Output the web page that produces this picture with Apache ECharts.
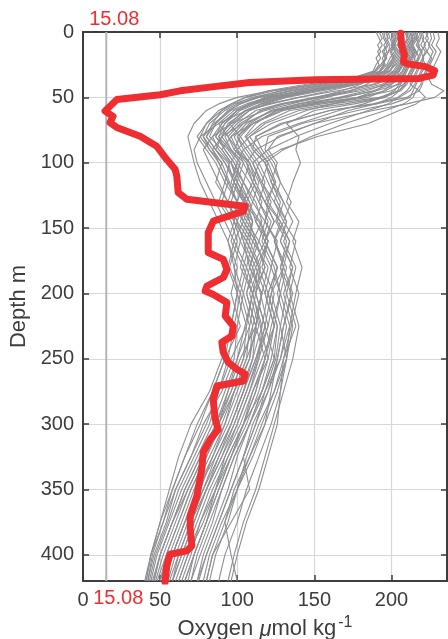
<!DOCTYPE html>
<html><head><meta charset="utf-8">
<script src="https://cdn.jsdelivr.net/npm/echarts@6/dist/echarts.min.js"></script>
<style>html,body{margin:0;padding:0;background:#fff}#c{width:448px;height:639px}</style>
</head><body><div id="c"></div>
<script>
// depth levels (m) shared by the gray profiles
const depths = [0,5,10,15,20,25,30,35,40,45,50,55,60,70,80,90,100,115,130,145,160,180,200,225,250,275,300,325,350,375,400,420];
// oxygen (umol/kg) of each gray profile at those depths
const p01 = [205,206,204,207,205,203,198,185,160,135,118,108,100,92,88,95,102,98,105,110,108,115,112,118,113,106,98,88,80,70,62,58];
const p02 = [210,211,209,212,210,208,205,200,188,165,140,120,108,98,90,86,92,100,96,104,112,118,110,115,120,110,104,96,86,78,68,62];
const p03 = [198,199,201,198,196,195,192,180,150,128,112,102,95,85,78,82,90,95,100,98,106,102,110,105,100,94,88,78,68,60,52,47];
const p04 = [215,217,214,216,218,215,212,210,205,190,168,140,122,108,100,104,110,115,120,118,125,130,122,128,125,118,112,104,96,88,80,75];
const p05 = [207,205,208,206,209,207,204,198,175,150,128,115,105,95,102,98,108,112,106,115,120,112,118,124,116,108,100,92,82,74,66,60];
const p06 = [222,224,221,223,220,222,219,217,215,212,205,188,160,130,112,110,118,122,128,125,132,128,135,130,126,122,118,110,100,94,86,82];
const p07 = [200,202,200,203,201,199,195,185,165,140,120,110,100,90,84,88,95,92,100,104,98,106,102,108,100,92,84,74,64,56,48,44];
const p08 = [212,213,211,214,212,210,208,205,198,180,155,130,115,104,96,100,108,104,112,116,110,120,116,112,118,110,102,92,86,76,70,64];
const p09 = [190,192,194,191,193,190,188,175,145,120,105,96,90,84,80,86,92,98,94,100,96,104,100,106,96,88,80,70,60,54,46,42];
const p10 = [208,207,209,208,206,207,205,203,200,195,185,155,128,110,102,108,114,110,118,124,118,126,120,126,122,116,108,100,94,86,78,74];
const p11 = [203,204,202,205,203,201,199,192,170,145,122,108,98,88,94,100,96,104,110,106,114,108,116,112,110,102,94,84,76,66,58,54];
const p12 = [218,219,217,220,218,216,214,212,208,200,180,150,125,112,105,112,120,125,118,128,134,128,132,138,130,124,116,108,98,92,96,100];
const p13 = [195,196,198,195,197,194,190,178,155,130,110,98,90,80,74,80,86,92,88,96,100,95,102,98,94,88,82,72,62,55,47,43];
const p14 = [209,210,208,211,209,207,205,200,190,172,150,128,112,100,92,96,104,100,108,112,118,110,115,120,112,104,96,86,74,66,58,52];
const p15 = [225,226,224,227,225,223,220,218,216,214,212,200,178,142,120,118,124,128,135,130,138,134,140,135,130,128,122,114,106,100,92,88];
const p16 = [205,207,206,205,207,205,202,196,178,155,132,118,108,96,88,92,98,104,100,110,106,114,108,114,106,98,90,80,70,62,54,50];
const p17 = [212,214,213,215,213,211,209,206,200,188,170,145,122,106,98,102,108,114,110,118,114,122,118,124,120,114,106,96,88,80,72,66];
const p18 = [200,201,203,200,202,200,197,188,168,142,120,106,96,86,82,90,96,100,106,102,110,106,112,108,106,98,92,82,72,64,56,50];
const p19 = [216,218,216,219,217,215,213,211,209,205,195,170,140,118,108,114,120,116,124,130,124,132,128,134,128,120,110,104,108,96,84,80];
const p20 = [207,208,207,209,207,206,203,195,172,148,126,112,102,92,86,94,100,96,104,108,104,112,106,112,102,94,86,78,68,58,50,46];
const p21 = [230,231,229,232,230,228,226,224,226,234,228,210,188,150,126,120,126,122,130,136,130,138,134,140,136,130,124,118,112,104,98,94];
const p22 = [198,197,199,198,196,195,193,186,162,136,114,100,92,82,78,84,90,86,94,98,94,100,96,102,92,84,76,66,58,52,44,41];
const p23 = [211,212,210,213,211,209,207,203,194,176,152,130,116,102,94,98,106,110,104,114,120,114,120,116,114,108,100,90,80,72,64,58];
const p24 = [204,205,204,206,204,202,199,190,170,146,124,110,100,90,86,92,98,104,100,108,112,108,116,110,108,100,92,84,74,66,58,53];
const p25 = [220,221,219,222,220,218,216,214,212,218,210,190,160,128,112,116,122,128,124,132,128,136,130,136,132,124,114,106,100,90,82,78];
const p26 = [202,203,201,204,202,200,196,182,158,134,114,102,94,86,80,86,94,98,104,100,108,104,110,106,104,96,88,76,66,58,50,45];
const p27 = [213,214,212,215,213,211,209,207,204,196,178,150,126,110,100,106,112,118,114,122,118,126,120,126,124,116,104,94,86,80,72,68];
const p28 = [206,207,205,208,206,204,201,194,176,152,130,116,106,94,90,96,102,98,106,110,106,114,110,116,110,104,96,88,78,68,60,55];
const p29 = [194,195,197,194,196,193,189,176,150,124,106,96,88,80,76,82,88,94,90,98,102,98,104,100,98,90,78,70,60,52,45,42];
const p30 = [217,216,218,217,215,216,214,212,210,206,192,162,134,116,106,110,118,124,120,128,124,130,126,132,128,118,108,98,90,84,76,70];
const p31 = [201,203,200,202,199,197,193,180,152,122,100,88,80,72,68,70,72,76,82,88,94,98,100,96,90,82,70,62,56,50,44,41];
const p32 = [214,215,213,216,214,212,210,208,206,204,196,176,150,132,140,138,141,136,132,140,136,142,138,134,132,128,126,120,114,106,100,96];
const p33 = [212,214,211,213,215,214,212,210,208,205,200,190,172,150,128,112,106,112,118,124,118,126,122,118,124,116,108,98,90,82,74,70];
const p34 = [219,220,222,219,221,219,217,215,213,210,204,198,185,160,138,120,110,116,122,118,126,122,128,124,118,112,104,96,88,80,72,66];
const p35 = [206,204,207,205,208,206,203,200,196,190,178,162,145,122,108,100,104,110,116,112,120,116,124,120,114,106,98,90,80,72,64,58];
const p36 = [196,198,195,197,194,196,192,188,180,168,152,135,118,96,84,78,82,88,94,100,104,108,104,110,104,96,86,76,66,58,50,46];
const p37 = [224,222,225,223,226,224,222,220,219,216,214,208,196,170,148,130,118,124,130,126,134,130,136,130,126,120,112,104,96,88,80,74];
const p38 = [209,211,208,210,212,209,207,204,196,184,166,148,130,110,96,90,96,102,108,104,112,118,112,118,112,104,96,86,78,70,62,56];
const p39 = [201,200,202,199,201,198,195,190,184,174,158,140,124,104,90,84,88,94,100,106,102,110,106,112,108,98,88,80,70,62,54,48];
const p40 = [214,216,213,215,213,211,209,207,205,202,194,182,166,140,116,104,100,108,114,120,116,124,128,122,118,112,104,94,84,76,68,62];
const p41 = [227,228,226,229,227,225,223,221,220,218,222,216,205,185,152,128,114,120,126,132,128,136,132,128,132,126,118,108,100,92,84,80];
const p42 = [192,194,191,193,190,192,189,186,178,160,140,122,106,88,76,72,74,80,86,92,98,94,100,96,92,84,74,66,58,50,44,40];
const profiles = [p01,p02,p03,p04,p05,p06,p07,p08,p09,p10,p11,p12,p13,p14,p15,p16,p17,p18,p19,p20,p21,
                  p22,p23,p24,p25,p26,p27,p28,p29,p30,p31,p32,p33,p34,p35,p36,p37,p38,p39,p40,p41,p42];

// highlighted (red) profile
const redDepth = [1,10,17,23,24.5,26.5,29.6,33,35.5,36.5,38.7,41.8,45,48,51.7,56.8,60.5,64.5,69.3,73,79.8,87.4,97.6,105,110,122.8,128,130.5,133.3,137,144.7,153.4,168.7,174,181.7,187.8,194.4,198.2,200.8,207,217.3,225,232.6,237.4,245,252.7,258,261.9,267,270.8,281,296.3,304,311.6,321.5,334.5,355,370,380,393,397,399.5,408.4,421];
const redOxy = [206,206.5,208.4,207.8,211,222,228,227,218,151,108,85,63,50,22,17.5,14.3,19.5,17.5,21.9,37,47.8,54.3,59.7,60.8,61.7,67.3,84.5,105,104,84.5,81.2,81.2,91,93.3,91,80.3,79.2,84.5,93.3,92.2,97.4,96.6,90,90.9,94.2,99.8,105.2,103.9,86.8,84.4,85.7,87.7,82.5,78,77,73.8,69.5,69.5,70.6,67.3,56.5,54.3,53.2];

const refValue = 15.08;
const xRange = [0, 236];
const yRange = [0, 420];
const tickStep = 50;

const FONT = '"Liberation Sans", Arial, Helvetica, sans-serif';
const TXT = '#3d3d3d';
const RED = '#ee2e31';

const chart = echarts.init(document.getElementById('c'), null, {renderer: 'canvas'});

const series = profiles.map(p => ({
  type: 'line', data: p.map((v, i) => [v, depths[i]]),
  showSymbol: false, symbol: 'none', silent: true, animation: false, z: 3,
  lineStyle: {color: '#8e8f93', width: 1.1}
}));
series.push({
  type: 'line', data: [[refValue, yRange[0]], [refValue, yRange[1]]],
  showSymbol: false, symbol: 'none', silent: true, animation: false, z: 2,
  lineStyle: {color: '#b4b5b8', width: 2}
});
series.push({
  type: 'line', data: redOxy.map((v, i) => [v, redDepth[i]]),
  showSymbol: false, symbol: 'none', silent: true, animation: false, z: 5,
  lineStyle: {color: RED, width: 7, join: 'round', cap: 'round'}
});

const axisCommon = {
  axisLine: {show: true, onZero: false, lineStyle: {color: TXT, width: 2}},
  axisTick: {show: true, inside: true, length: 6, lineStyle: {color: TXT, width: 1.5}},
};

chart.setOption({
  animation: false,
  backgroundColor: '#fff',
  grid: {left: 83, right: 1, top: 32, bottom: 58, containLabel: false, outerBoundsMode: 'none'},
  xAxis: [
    Object.assign({
      type: 'value', position: 'bottom', min: xRange[0], max: xRange[1], interval: tickStep,
      axisLabel: {color: TXT, fontSize: 20, fontFamily: FONT, margin: 9, showMaxLabel: false},
      splitLine: {show: true, lineStyle: {color: '#d8d8d8', width: 1.2}},
      name: '{a|Oxygen }{i|μ}{a|mol kg}{s|-1}', nameLocation: 'middle', nameGap: 30,
      nameTextStyle: {rich: {
        a: {fontSize: 22, color: TXT, fontFamily: FONT},
        i: {fontSize: 22, color: TXT, fontFamily: FONT, fontStyle: 'italic'},
        s: {fontSize: 16, color: TXT, fontFamily: FONT, padding: [0, 0, 13, 2]}
      }}
    }, axisCommon),
    Object.assign({
      type: 'value', position: 'top', min: xRange[0], max: xRange[1], interval: tickStep,
      axisLabel: {show: false}, splitLine: {show: false}
    }, axisCommon)
  ],
  yAxis: [
    Object.assign({
      type: 'value', position: 'left', inverse: true, min: yRange[0], max: yRange[1], interval: tickStep,
      axisLabel: {color: TXT, fontSize: 20, fontFamily: FONT, margin: 9, showMaxLabel: false},
      splitLine: {show: true, lineStyle: {color: '#d8d8d8', width: 1.2}},
      name: 'Depth m', nameLocation: 'middle', nameGap: 46,
      nameTextStyle: {color: TXT, fontSize: 22, fontFamily: FONT}
    }, axisCommon),
    Object.assign({
      type: 'value', position: 'right', inverse: true, min: yRange[0], max: yRange[1], interval: tickStep,
      axisLabel: {show: false}, splitLine: {show: false}
    }, axisCommon)
  ],
  series: series
});

const px = chart.convertToPixel({xAxisIndex: 0}, refValue);
const topY = chart.convertToPixel({yAxisIndex: 0}, yRange[0]);
const botY = chart.convertToPixel({yAxisIndex: 0}, yRange[1]);
chart.setOption({
  graphic: [
    {type: 'text', x: px + 8, y: topY - 13, silent: true,
     style: {text: String(refValue), fill: RED, font: '20px ' + FONT, align: 'center', verticalAlign: 'middle'}},
    {type: 'text', x: px + 12, y: botY + 17, silent: true,
     style: {text: String(refValue), fill: RED, font: '20px ' + FONT, align: 'center', verticalAlign: 'middle'}}
  ]
});
</script></body></html>
